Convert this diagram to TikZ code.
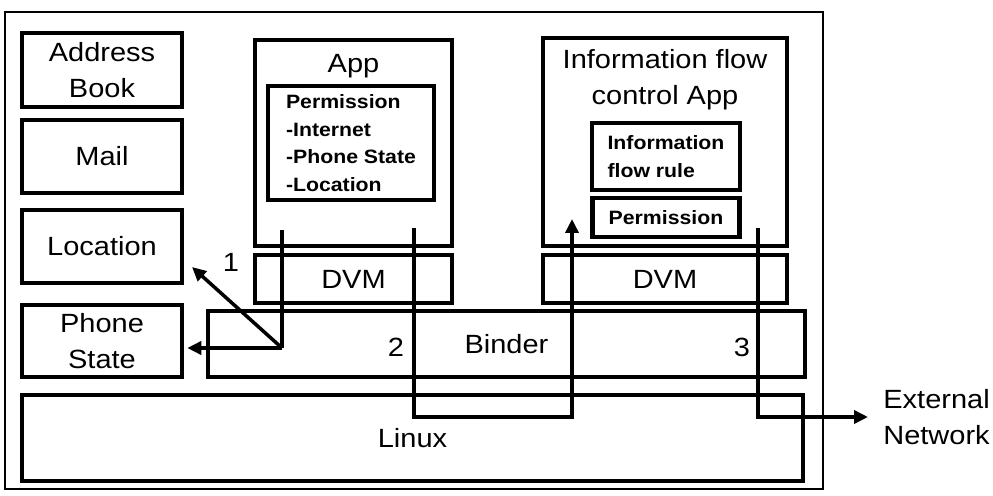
\documentclass[tikz,border=0pt]{standalone}
\usepackage{fontspec}
\setmainfont{Liberation Sans}[FakeStretch=1.1]
\usetikzlibrary{arrows.meta, positioning}

\begin{document}
\begin{tikzpicture}[x=0.02cm, y=-0.02cm,
    box/.style={rectangle, draw=black, line width=2pt, inner sep=0pt,
        font=\fontsize{15}{20.5}\selectfont, align=center},
    inbox/.style={rectangle, draw=black, line width=2.4pt, inner sep=0pt,
        font=\fontsize{11}{15.7}\selectfont\bfseries, align=left},
    lbl/.style={font=\fontsize{15}{20.5}\selectfont, align=center, inner sep=0pt},
    flow/.style={line width=2pt},
    arr/.style={flow, -{Triangle[length=2.8mm, width=2.6mm]}},
]
\useasboundingbox (0,0) rectangle (993,496);

% Outer frame
\draw[line width=1.6pt] (5,12) rectangle (823,489);

% Data on the phone
\node[box, minimum width=3.2cm, minimum height=1.48cm] (addr) at (102,70) {Address\\Book};
\node[box, minimum width=3.2cm, minimum height=1.46cm, below=0.19cm of addr] (mail) {Mail};
\node[box, minimum width=3.2cm, minimum height=1.46cm, below=0.27cm of mail] (loc) {Location};
\node[box, minimum width=3.2cm, minimum height=1.44cm, below=0.37cm of loc] (phone) {Phone\\State};

% App and its permissions
\node[box, minimum width=3.94cm, minimum height=4.12cm] (app) at (353.5,143) {};
\node[lbl, anchor=north, below=0.32cm of app.north] (applbl) {App};
\node[inbox, minimum width=3.32cm, minimum height=2.28cm] (perm) at (351,143)
    {Permission\\-Internet\\-Phone State\\-Location};
\node[box, minimum width=3.94cm, minimum height=0.96cm, below=0.11cm of app] (dvm1) {DVM};

% Information flow control app
\node[box, minimum width=4.88cm, minimum height=4.16cm] (ifc) at (665,142) {};
\node[lbl, anchor=north, below=0.25cm of ifc.north] (ifclbl) {Information flow\\control App};
\node[inbox, minimum width=2.96cm, minimum height=1.34cm] (rule) at (666,156.5) {Information\\flow rule};
\node[inbox, minimum width=2.94cm, minimum height=0.78cm, below=0.08cm of rule] (perm2) {Permission};
\node[box, minimum width=4.88cm, minimum height=0.96cm, below=0.11cm of ifc] (dvm2) {DVM};

% Binder and Linux
\node[box, minimum width=11.94cm, minimum height=1.32cm] (binder) at (506.5,344) {Binder};
\node[box, minimum width=15.62cm, minimum height=1.72cm] (linux) at (412.5,438) {Linux};

% External network
\node[lbl, anchor=west, align=left, inner sep=0.3cm] (ext) at (868,417) {External\\Network};

% Flow 1: app reads location and phone state
\coordinate (s1) at (282,230);
\coordinate (hub) at (282,348);
\coordinate (t1) at (192,267);
\draw[flow] (s1) -- (hub);
\draw[arr, shorten >=2pt] (hub) -- (hub -| phone.east);
\draw[arr] (hub) -- (t1);
\node[lbl] (n1) at (231,262) {1};

% Flow 2: app sends to the control app
\coordinate (s2) at (414,228);
\coordinate (t2) at (572,219);
\coordinate (low) at (0,417);
\draw[arr] (s2) -- (s2 |- low) -| (t2);
\node[lbl] (n2) at (396,347) {2};

% Flow 3: control app sends out
\coordinate (s3) at (758,228);
\draw[arr] (s3) |- (ext.west);
\node[lbl] (n3) at (742,347) {3};
\end{tikzpicture}
\end{document}
